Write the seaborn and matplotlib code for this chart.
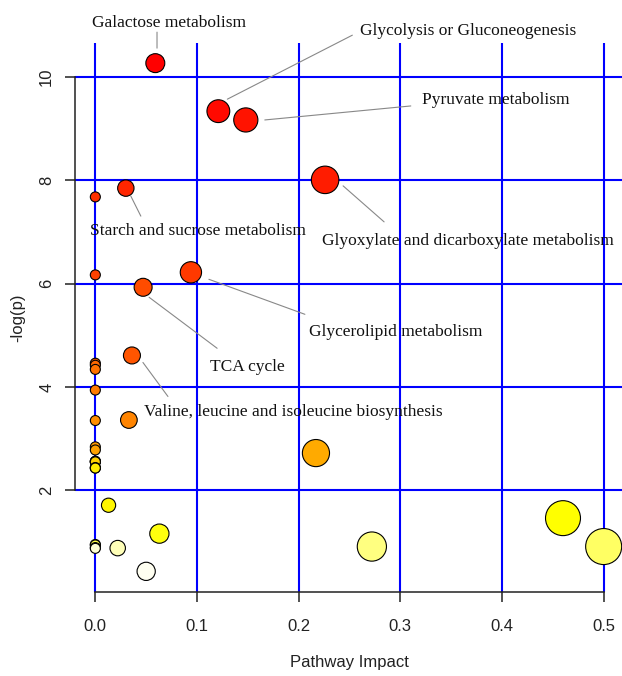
import numpy as np
import pandas as pd
import seaborn as sns
import matplotlib
matplotlib.use("Agg")
import matplotlib.pyplot as plt
from matplotlib.colors import hsv_to_rgb, to_hex
from matplotlib.transforms import offset_copy

# pathways ordered by p-value (most significant first)
impact = [0.059, 0.121, 0.148, 0.226, 0.030, 0.000, 0.094, 0.000, 0.047, 0.036,
          0.000, 0.000, 0.000, 0.000, 0.033, 0.000, 0.000, 0.000, 0.217, 0.000,
          0.000, 0.000, 0.000, 0.000, 0.000, 0.000, 0.013, 0.460, 0.063, 0.000,
          0.000, 0.500, 0.272, 0.000, 0.022, 0.000, 0.050]
neg_log_p = [10.27, 9.34, 9.17, 8.01, 7.85, 7.68, 6.22, 6.17, 5.93, 4.61,
             4.46, 4.42, 4.34, 3.94, 3.36, 3.35, 2.84, 2.78, 2.72, 2.56,
             2.56, 2.55, 2.55, 2.44, 2.43, 2.43, 1.71, 1.46, 1.16, 0.95,
             0.94, 0.91, 0.91, 0.89, 0.88, 0.875, 0.43]

label_idx = [0, 1, 2, 3, 4, 6, 8, 9]
label_names = ["Galactose metabolism", "Glycolysis or Gluconeogenesis",
               "Pyruvate metabolism", "Glyoxylate and dicarboxylate metabolism",
               "Starch and sucrose metabolism", "Glycerolipid metabolism",
               "TCA cycle", "Valine, leucine and isoleucine biosynthesis"]

# label layout in pixels relative to the circle: line start, line end, text centre
label_layout = [
    ((1.7, -15), (1.7, -31), (14, -40)),
    ((9, -12), (134, -76), (250, -80)),
    ((19, 0), (165, -14), (250, -20)),
    ((18, 6), (59, 42), (143, 61)),
    ((5, 8), (15, 28), (72, 43)),
    ((18, 7), (114, 42), (205, 60)),
    ((6, 10), (74, 61), (104, 80)),
    ((11, 7), (36, 41), (161, 57)),
]


def heat_colors(n):
    # same ramp as R's heat.colors()
    j = n // 4
    i = n - j
    cols = [hsv_to_rgb((h, 1, 1)) for h in np.linspace(0, 1 / 6, i)]
    if j > 0:
        sats = np.linspace(1 - 1 / (2 * j), 1 / (2 * j), j)
        cols += [hsv_to_rgb((1 / 6, s, 1)) for s in sats]
    return [to_hex(c) for c in cols]


df = pd.DataFrame({"impact": impact, "logp": neg_log_p})
df["id"] = [str(i) for i in range(len(df))]
palette = dict(zip(df["id"], heat_colors(len(df))))
# circle radius in px grows with sqrt(impact)
sizes = {v: (2 * (5 + 18.4 * np.sqrt(v)) * 0.72) ** 2 for v in set(impact)}

plt.rcParams["font.family"] = ["Liberation Sans", "DejaVu Sans"]

fig = plt.figure(figsize=(6.22, 6.76), dpi=100)
ax = fig.add_axes([75 / 622, 84 / 676, 549 / 622, 549 / 676])

sns.scatterplot(data=df, x="impact", y="logp", hue="id", palette=palette,
                size="impact", sizes=sizes, edgecolor="black", linewidth=0.8,
                legend=False, ax=ax, zorder=3)

ax.set_xlim(-0.02, 0.52)
ax.set_ylim(0.03, 10.66)
ax.set_xticks(np.arange(0, 0.51, 0.1))
ax.set_yticks([2, 4, 6, 8, 10])
ax.grid(True, color="blue", lw=1.5)
ax.set_axisbelow(True)

for side in ["top", "right"]:
    ax.spines[side].set_visible(False)
ax.spines["left"].set_bounds(2, 10)
ax.spines["bottom"].set_bounds(0, 0.5)
for side in ["left", "bottom"]:
    ax.spines[side].set_color("#222222")
    ax.spines[side].set_linewidth(1.1)

ax.tick_params(axis="both", direction="out", length=7.5, width=1.1,
               color="#222222", labelsize=12, labelcolor="#222222")
ax.tick_params(axis="x", pad=12)
ax.tick_params(axis="y", pad=7.5, labelrotation=90)
for lbl in ax.get_yticklabels():
    lbl.set_va("center")

ax.set_xlabel("Pathway Impact", fontsize=12, color="#222222")
ax.set_ylabel("-log(p)", fontsize=12, color="#222222")
ax.xaxis.set_label_coords(0.5, (592 - 663) / 549)
ax.xaxis.label.set_va("center")
ax.yaxis.set_label_coords((18 - 75) / 549, 0.5)
ax.yaxis.label.set_va("center")

for k, name, (near, far, txt) in zip(label_idx, label_names, label_layout):
    x, y = impact[k], neg_log_p[k]
    start = offset_copy(ax.transData, x=near[0], y=-near[1], units="dots")
    ax.annotate("", xy=(x, y), xycoords=start,
                xytext=(far[0] - near[0], -(far[1] - near[1])),
                textcoords="offset pixels",
                arrowprops=dict(arrowstyle="-", color="#888888", lw=0.8,
                                shrinkA=0, shrinkB=0))
    ax.annotate(name, xy=(x, y), xytext=(txt[0], -txt[1]),
                textcoords="offset pixels", ha="center", va="center",
                family=["Liberation Serif", "DejaVu Serif"], fontsize=12.5,
                color="#111111")

fig.savefig("out.png", dpi=100)
